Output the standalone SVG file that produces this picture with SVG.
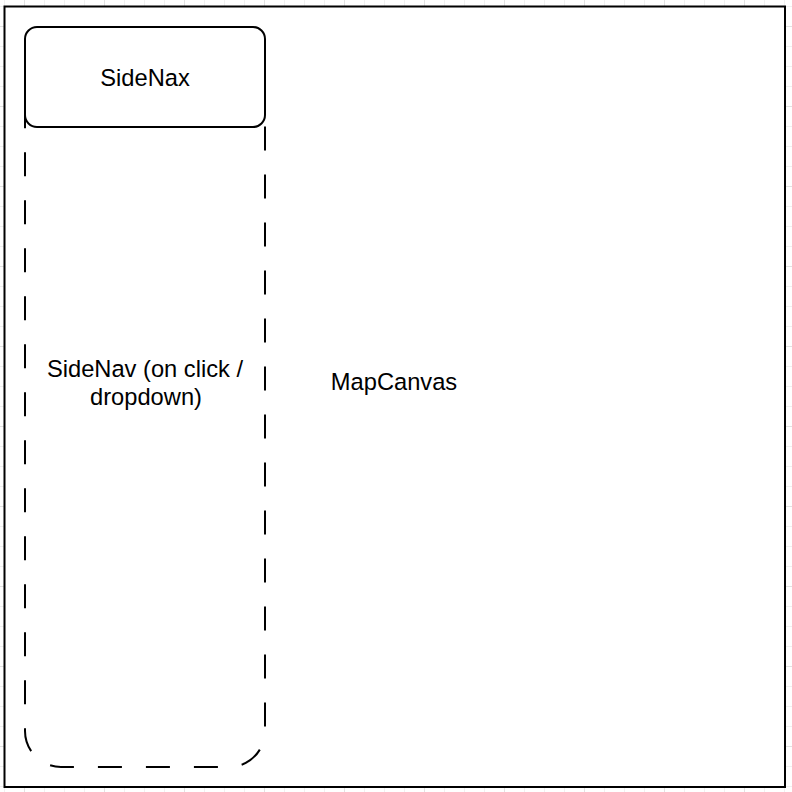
<svg xmlns="http://www.w3.org/2000/svg" width="792" height="792" viewBox="0 0 792 792">
  <defs>
    <pattern id="grid" patternUnits="userSpaceOnUse" x="24" y="26" width="80" height="80">
      <path d="M20.5 0V80M40.5 0V80M60.5 0V80M0 20.5H80M0 40.5H80M0 60.5H80" stroke="#f0f0f0" stroke-width="1" fill="none"/>
      <path d="M0.5 0V80M0 0.5H80" stroke="#e2e2e2" stroke-width="1" fill="none"/>
    </pattern>
  </defs>
  <style>
    .lbl { font-family: "Liberation Sans", Arial, Helvetica, sans-serif; font-size: 23.7px; fill: #000; text-anchor: middle; }
    .box { fill: #fff; stroke: #000; stroke-width: 2; }
    .dash { fill: none; stroke: #000; stroke-width: 2; stroke-dasharray: 24 24; }
  </style>
  <rect x="0" y="0" width="792" height="792" fill="#fff"/>
  <rect x="0" y="0" width="792" height="792" fill="url(#grid)"/>
  <g id="MapCanvas">
    <rect class="box" x="4.5" y="6.5" width="780.5" height="780.5"/>
    <text class="lbl" x="394" y="390">MapCanvas</text>
  </g>
  <g id="SideNavDropdown">
    <rect class="dash" x="25" y="27" width="240" height="740" rx="36" ry="36"/>
    <text class="lbl" x="145" y="377">SideNav (on click /</text>
    <text class="lbl" x="146" y="404.5">dropdown)</text>
  </g>
  <g id="SideNax">
    <rect class="box" x="25" y="27" width="240" height="100" rx="12" ry="12"/>
    <text class="lbl" x="145" y="85.5">SideNax</text>
  </g>
  <g id="connectors"/>
</svg>
